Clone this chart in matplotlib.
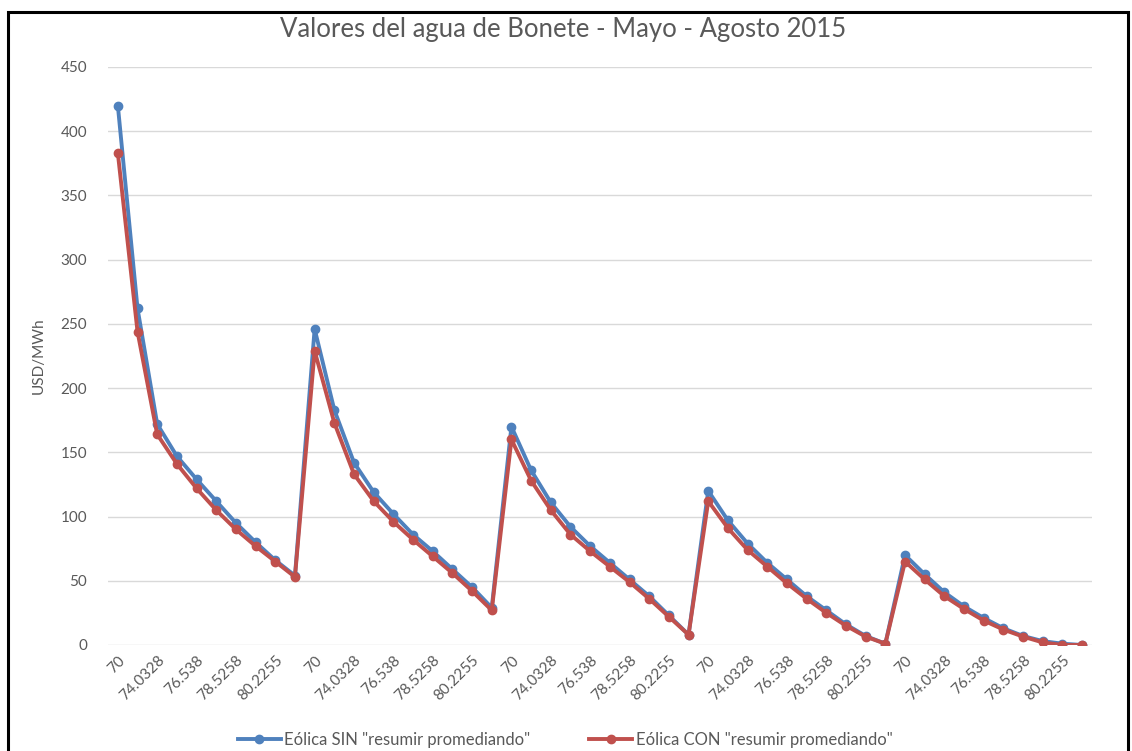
import numpy as np
import matplotlib
matplotlib.use("Agg")
from matplotlib import pyplot as plt
from matplotlib.patches import Rectangle

# categories repeat for the 5 blocks, only every other one is labelled
cota_labels = ["70", "", "74.0328", "", "76.538", "", "78.5258", "", "80.2255", ""]
n_blocks = 5

sin_prom = [420, 262, 172, 147, 129, 112, 95, 80, 66, 54,
            246, 183, 142, 119, 102, 86, 73, 59, 45, 29,
            170, 136, 111, 92, 77, 64, 51, 38, 23, 8,
            120, 97, 79, 64, 51, 38, 27, 16, 7, 1,
            70, 55, 41, 30, 21, 13, 7, 3, 1, 0]
con_prom = [383, 244, 164, 141, 122, 105, 90, 77, 65, 53,
            229, 173, 133, 112, 96, 82, 69, 56, 42, 27,
            160, 128, 105, 86, 73, 61, 49, 36, 22, 8,
            112, 91, 74, 61, 48, 36, 25, 15, 6.5, 1,
            65, 51, 38, 28, 19, 12, 6.5, 2, 0, 0]

labels = cota_labels * n_blocks
x = np.arange(len(sin_prom))

plt.rcParams['font.family'] = ['Lato', 'DejaVu Sans']
gris = "#595959"

fig = plt.figure(figsize=(11.32, 7.51), dpi=100)
fig.patches.append(Rectangle((8 / 1132, -0.01), 1120 / 1132, 1 - 12 / 751 + 0.01,
                             transform=fig.transFigure, fill=False,
                             edgecolor="black", linewidth=2.2))

ax = fig.add_axes([108 / 1132, 1 - 645 / 751, 984 / 1132, 578 / 751])
ax.plot(x, sin_prom, color="#4F81BD", lw=2.8, marker="o", ms=6,
        label='Eólica SIN "resumir promediando"')
ax.plot(x, con_prom, color="#C0504D", lw=2.8, marker="o", ms=6,
        label='Eólica CON "resumir promediando"')

ax.set_xlim(-0.5, len(x) - 0.5)
ax.set_ylim(0, 450)
ax.set_yticks(np.arange(0, 451, 50))
ax.grid(axis="y", color="#D9D9D9", lw=1)
ax.set_axisbelow(True)
for s in ax.spines.values():
    s.set_visible(False)

idx = [i for i, l in enumerate(labels) if l != ""]
ax.set_xticks(idx)
ax.set_xticklabels([labels[i] for i in idx], rotation=45, ha="right",
                   rotation_mode="anchor", fontsize=11, color=gris)
ax.tick_params(axis="both", length=0, colors=gris, labelsize=11)
ax.tick_params(axis="x", pad=6)
ax.tick_params(axis="y", pad=15)

ax.set_ylabel("USD/MWh", fontsize=11, color=gris)
ax.yaxis.set_label_coords(-62 / 984, 0.5)
fig.text(563 / 1132, 1 - 29 / 751, "Valores del agua de Bonete - Mayo - Agosto 2015",
         ha="center", va="center", fontsize=18.5, color=gris)

fig.legend(loc="center", bbox_to_anchor=(565 / 1132, 1 - 740 / 751), ncol=2,
           frameon=False, fontsize=12, labelcolor=gris, handlelength=2.6,
           handletextpad=0.2, columnspacing=3.5)

fig.savefig("out.png", dpi=100)
